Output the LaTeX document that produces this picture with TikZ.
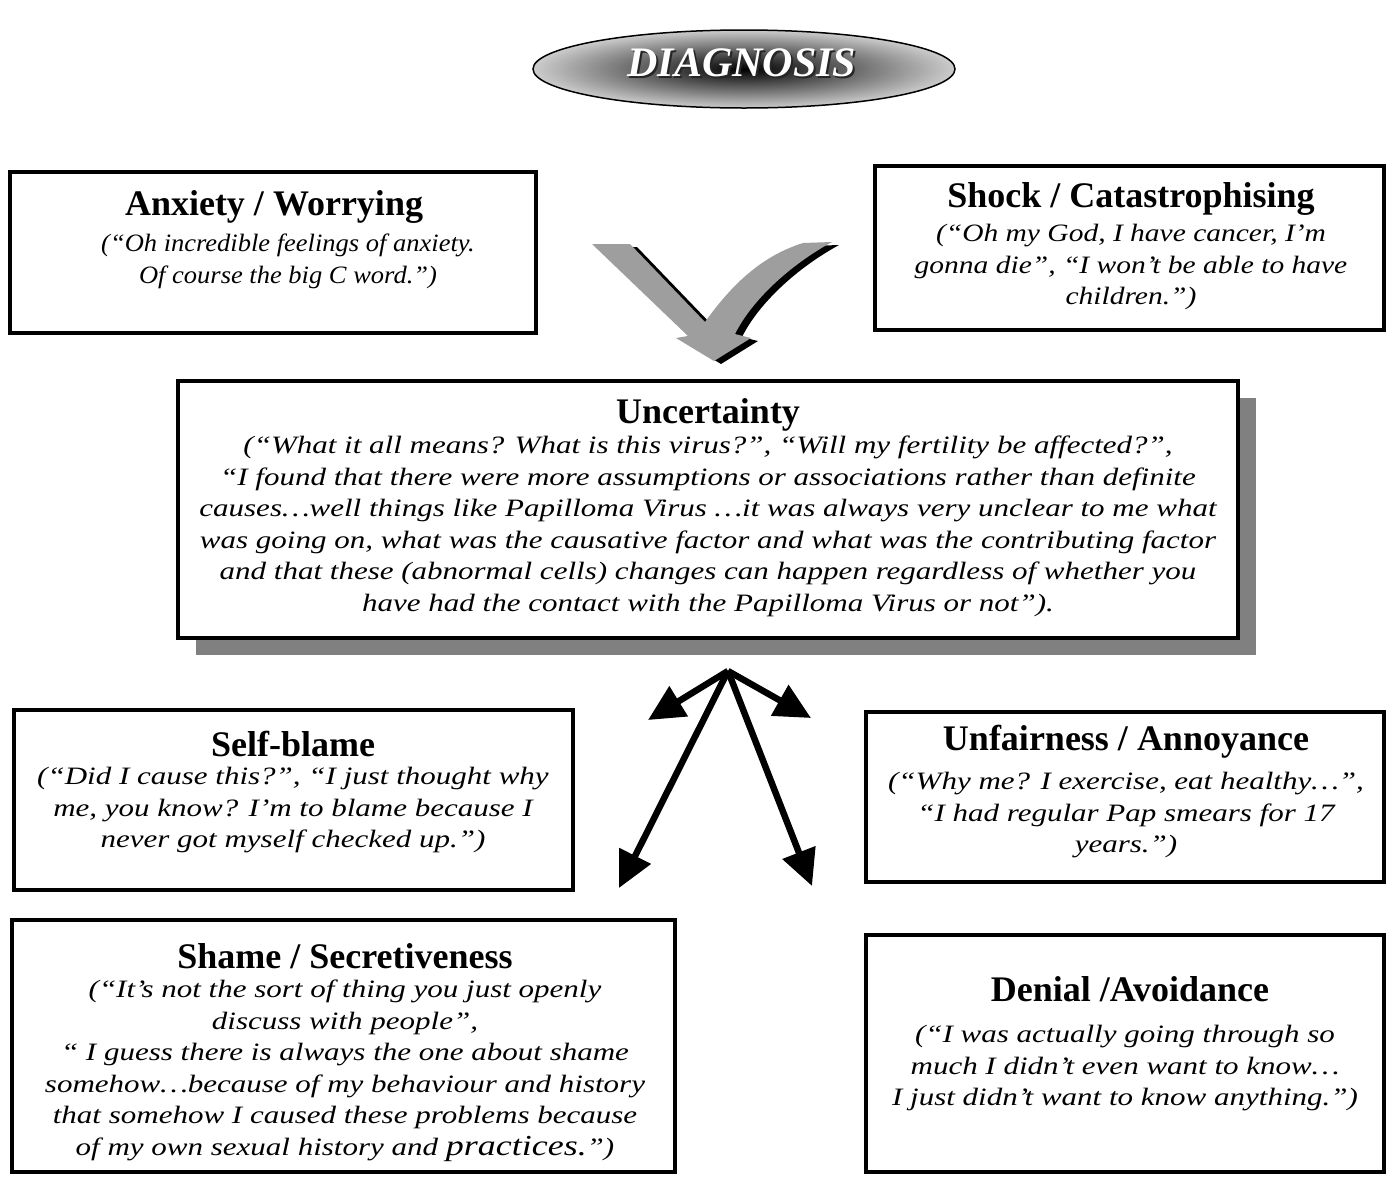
\documentclass[tikz,border=0pt]{standalone}
\usepackage{fontspec}
\setmainfont{Liberation Serif}
\newfontfamily\bodywide[FakeStretch=1.24]{Liberation Serif}
\newfontfamily\bodymid[FakeStretch=1.18]{Liberation Serif}
\newfontfamily\bodynarrow[FakeStretch=1.06]{Liberation Serif}
\usetikzlibrary{arrows.meta,shapes.geometric}
\newcommand\chevronpath{(592,244) -- (630,244) -- (705,322) .. controls (735,280) and (765,255) .. (803,243) -- (832,242) .. controls (790,265) and (752,300) .. (735,334) -- (751,338) -- (714,361) -- (676,338) -- (688,336) -- cycle}
\begin{document}
\begin{tikzpicture}[x=1pt,y=-1pt,
  box/.style={draw=black,line width=3.5pt,fill=white,inner sep=0pt},
  ttl/.style={font=\fontsize{36}{40}\selectfont\bfseries,inner sep=0pt},
  body/.style={font=\fontsize{25}{31.5}\selectfont\bodywide\itshape,align=center,inner sep=0pt,anchor=north},
  arr/.style={line width=6.5pt,-{Triangle[length=36pt,width=34pt]}}]
\useasboundingbox (0,0) rectangle (1386,1176);
\fill[white] (0,0) rectangle (1386,1176);

% title ellipse
\node[ellipse,draw=black,line width=1.5pt,minimum width=422pt,minimum height=78pt,
      inner color=black,outer color=black!20] (diag) at (744,69) {};
\node[font=\fontsize{42}{46}\selectfont\bfseries\itshape,text=black!85,inner sep=0pt] (diagshadow) at (744,65) {DIAGNOSIS};
\node[font=\fontsize{42}{46}\selectfont\bfseries\itshape,text=white,inner sep=0pt] (diagtext) at (742,63) {DIAGNOSIS};

% chevron arrow
\begin{scope}[shift={(7,3)}]
\fill[black] \chevronpath;
\end{scope}
\fill[black!38] \chevronpath;

% top boxes
\node[box,minimum width=526pt,minimum height=161pt] (anx) at (273,252.5) {};
\node[ttl] (anxt) at (274,207) {Anxiety / Worrying};
\node[body,font=\fontsize{25}{31.5}\selectfont\bodynarrow\itshape] (anxb) at (288,234) {(“Oh incredible feelings of anxiety.\\Of course the big C word.”)};

\node[box,minimum width=509pt,minimum height=164pt] (shk) at (1129.5,248) {};
\node[ttl] (shkt) at (1131,199) {Shock / Catastrophising};
\node[body,font=\fontsize{25}{31.5}\selectfont\bodymid\itshape] (shkb) at (1131,224) {(“Oh my God, I have cancer, I’m\\gonna die”, “I won’t be able to have\\children.”)};

% uncertainty
\node[fill=black!50,minimum width=1060pt,minimum height=257pt,inner sep=0pt] (uncshadow) at (726,526) {};
\node[box,line width=4.5pt,minimum width=1060pt,minimum height=257pt] (unc) at (708,509.5) {};
\node[ttl] (unct) at (708,415) {Uncertainty};
\node[body] (uncb) at (708,436) {(“What it all means? What is this virus?”, “Will my fertility be affected?”,\\
“I found that there were more assumptions or associations rather than definite\\
causes…well things like Papilloma Virus …it was always very unclear to me what\\
was going on, what was the causative factor and what was the contributing factor\\
and that these (abnormal cells) changes can happen regardless of whether you\\
have had the contact with the Papilloma Virus or not”).};

% lower boxes
\node[box,minimum width=559pt,minimum height=180pt] (slf) at (293.5,800) {};
\node[ttl] (slft) at (293,744) {Self-blame};
\node[body] (slfb) at (293,767) {(“Did I cause this?”, “I just thought why\\me, you know? I’m to blame because I\\never got myself checked up.”)};

\node[box,minimum width=518pt,minimum height=170pt] (unf) at (1125,797) {};
\node[ttl] (unft) at (1126,742) {Unfairness / Annoyance};
\node[body] (unfb) at (1126,772) {(“Why me? I exercise, eat healthy…”,\\“I had regular Pap smears for 17\\years.”)};

\node[box,minimum width=663pt,minimum height=252pt] (shm) at (343.5,1046) {};
\node[ttl] (shmt) at (345,956) {Shame / Secretiveness};
\node[body] (shmb) at (345,980) {(“It’s not the sort of thing you just openly\\
discuss with people”,\\
“ I guess there is always the one about shame\\
somehow…because of my behaviour and history\\
that somehow I caused these problems because\\
of my own sexual history and {\fontsize{29}{31.5}\selectfont practices.}”)};

\node[box,minimum width=518pt,minimum height=237pt] (den) at (1125,1053.5) {};
\node[ttl] (dent) at (1130,989) {Denial /Avoidance};
\node[body] (denb) at (1125,1025) {(“I was actually going through so\\much I didn’t even want to know…\\I just didn’t want to know anything.”)};

% arrows from uncertainty
\coordinate (src) at (728,671);
\coordinate (tipA) at (648,720);
\coordinate (tipB) at (811,718);
\coordinate (tipC) at (619,888);
\coordinate (tipD) at (812,886);
\draw[arr] (src) -- (tipA);
\draw[arr] (src) -- (tipB);
\draw[arr] (src) -- (tipC);
\draw[arr] (src) -- (tipD);
\end{tikzpicture}
\end{document}
